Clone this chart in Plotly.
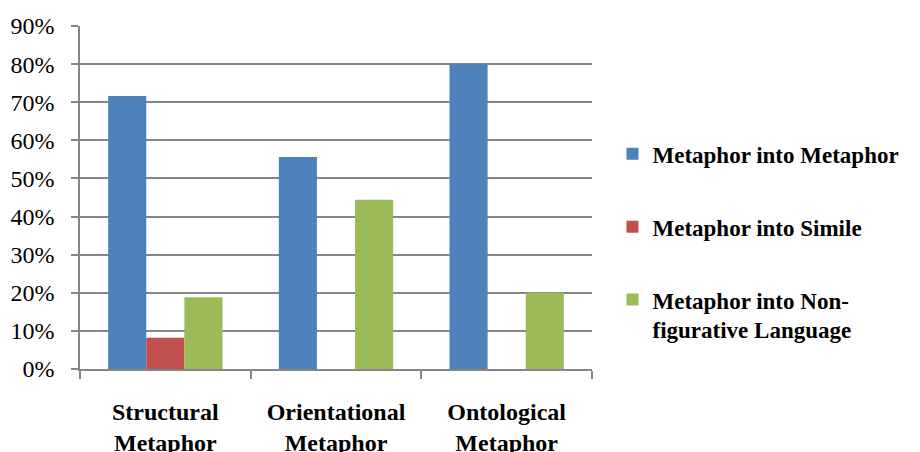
import plotly.graph_objects as go

categories = ["<b>Structural</b><br><b>Metaphor</b>", "<b>Orientational</b><br><b>Metaphor</b>", "<b>Ontological</b><br><b>Metaphor</b>"]
series_names = ["<b>Metaphor into Metaphor</b>", "<b>Metaphor into Simile</b>", "<b>Metaphor into Non-</b><br><b>figurative Language</b>"]
metaphor_vals = [0.716, 0.556, 0.80]
simile_vals = [0.082, None, None]
nonfig_vals = [0.188, 0.444, 0.20]
colors = ["#4F81BD", "#C0504D", "#9BBB59"]
y_ticks = [0, 0.1, 0.2, 0.3, 0.4, 0.5, 0.6, 0.7, 0.8, 0.9]

FONT = "Liberation Serif"
GRID = "#868686"

fig = go.Figure()
for i, (name, vals) in enumerate(zip(series_names, [metaphor_vals, simile_vals, nonfig_vals])):
    fig.add_trace(go.Bar(
        x=categories, y=vals, name=name,
        marker=dict(color=colors[i], line=dict(width=0)),
        legendgroup=f"g{i}",
    ))

fig.update_layout(
    width=920, height=452,
    margin=dict(l=80, r=328, t=26, b=83, autoexpand=False),
    paper_bgcolor="white", plot_bgcolor="white",
    barmode="group", bargap=0.33, bargroupgap=0,
    font=dict(family=FONT, size=24, color="black"),
    legend=dict(
        x=1.04, y=0.69, xanchor="left", yanchor="top",
        traceorder="grouped", tracegroupgap=40, valign="top",
        font=dict(family=FONT, size=23, color="black"),
        bgcolor="rgba(0,0,0,0)", itemsizing="constant",
    ),
    showlegend=True,
)
fig.update_yaxes(
    range=[0, 0.9], tickvals=y_ticks, tickformat=".0%",
    showgrid=True, gridcolor=GRID, gridwidth=1.5,
    showline=True, linecolor=GRID, linewidth=1.5,
    ticks="outside", ticklen=7, tickcolor=GRID, tickwidth=1.5,
    ticklabelstandoff=12, zeroline=False, automargin=False,
    tickfont=dict(family=FONT, size=24, color="black"),
)
fig.update_xaxes(
    showline=True, linecolor=GRID, linewidth=1.5,
    ticks="outside", ticklen=8, tickcolor=GRID, tickwidth=1.5,
    tickson="boundaries", ticklabelstandoff=20, automargin=False,
    tickfont=dict(family=FONT, size=24, color="black"),
)

fig.write_html("out.html")
